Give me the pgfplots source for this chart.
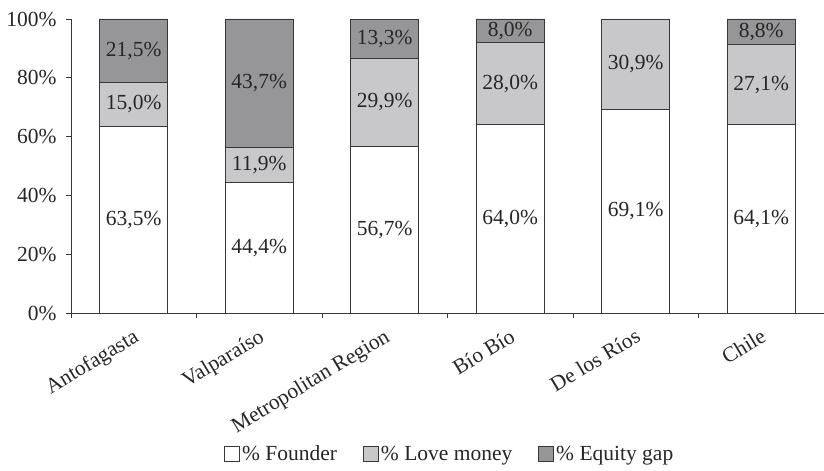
\documentclass[border=0pt]{standalone}
\usepackage{pgfplots}
\pgfplotsset{compat=1.18}
\usepackage{fontspec}
\setmainfont{Liberation Serif}
\definecolor{lgray}{RGB}{200,200,202}
\definecolor{dgray}{RGB}{150,150,152}
\definecolor{edge}{RGB}{55,55,55}
\newcommand{\lf}{\fontsize{21.5bp}{25bp}\selectfont}
\pgfplotsset{base/.style={
  scale only axis, width=753bp, height=294bp,
  at={(0,0)}, anchor=south west,
  xmin=-0.5, xmax=5.5, ymin=0, ymax=100}}
\begin{document}
\begin{tikzpicture}
\begin{axis}[base,
  ybar stacked, bar width=68bp,
  axis x line*=bottom, axis y line*=left,
  axis line style={edge, line width=0.9bp},
  tick align=outside,
  major tick length=5bp, minor tick length=5bp,
  tick style={edge, line width=0.9bp},
  xtick={0,...,5},
  xticklabels={Antofagasta, Valparaíso, Metropolitan Region, Bío Bío, De los Ríos, Chile},
  major x tick style={draw=none},
  minor xtick={-0.5,0.5,1.5,2.5,3.5,4.5,5.5},
  xticklabel style={rotate=31, anchor=north east, font=\lf, text=black!85, yshift=-4bp, xshift=-3bp},
  ytick={0,20,...,100},
  yticklabel={\pgfmathprintnumber{\tick}\%},
  yticklabel style={font=\lf, text=black!85, xshift=-6bp},
  /pgf/number format/assume math mode=true,
  legend columns=3,
  legend style={at={(0.503,-0.48)}, anchor=center, draw=none, font=\lf, text=black!85,
     /tikz/every even column/.append style={column sep=24bp}},
  legend image code/.code={\draw[#1, line width=0.9bp] (0bp,-7bp) rectangle (15bp,8bp);},
]
\addplot[fill=white, draw=edge, line width=0.9bp] coordinates {
 (0,63.5) (1,44.4) (2,56.7) (3,64.0) (4,69.1) (5,64.1)};
\addlegendentry{\% Founder}
\addplot[fill=lgray, draw=edge, line width=0.9bp] coordinates {
 (0,15.0) (1,11.9) (2,29.9) (3,28.0) (4,30.9) (5,27.1)};
\addlegendentry{\% Love money}
\addplot[fill=dgray, draw=edge, line width=0.9bp] coordinates {
 (0,21.5) (1,43.7) (2,13.3) (3,8.0) (4,0) (5,8.8)};
\addlegendentry{\% Equity gap}
\end{axis}
\begin{axis}[base, hide axis,
  point meta=explicit symbolic,
  nodes near coords,
  every node near coord/.append style={font=\lf, text=black!85, anchor=center},
]
\addplot[draw=none, mark=none] coordinates {
 (0,31.75) [63,5\%] (1,22.2) [44,4\%] (2,28.35) [56,7\%] (3,32.0) [64,0\%] (4,34.55) [69,1\%] (5,32.05) [64,1\%]};
\addplot[draw=none, mark=none] coordinates {
 (0,71.0) [15,0\%] (1,50.35) [11,9\%] (2,71.65) [29,9\%] (3,78.0) [28,0\%] (4,84.55) [30,9\%] (5,77.65) [27,1\%]};
\addplot[draw=none, mark=none] coordinates {
 (0,89.25) [21,5\%] (1,78.15) [43,7\%] (2,93.35) [13,3\%] (3,96.0) [8,0\%] (5,95.6) [8,8\%]};
\end{axis}
\pgfresetboundingbox
\path[use as bounding box] (-71bp,-158bp) rectangle (753bp,313bp);
\end{tikzpicture}
\end{document}
